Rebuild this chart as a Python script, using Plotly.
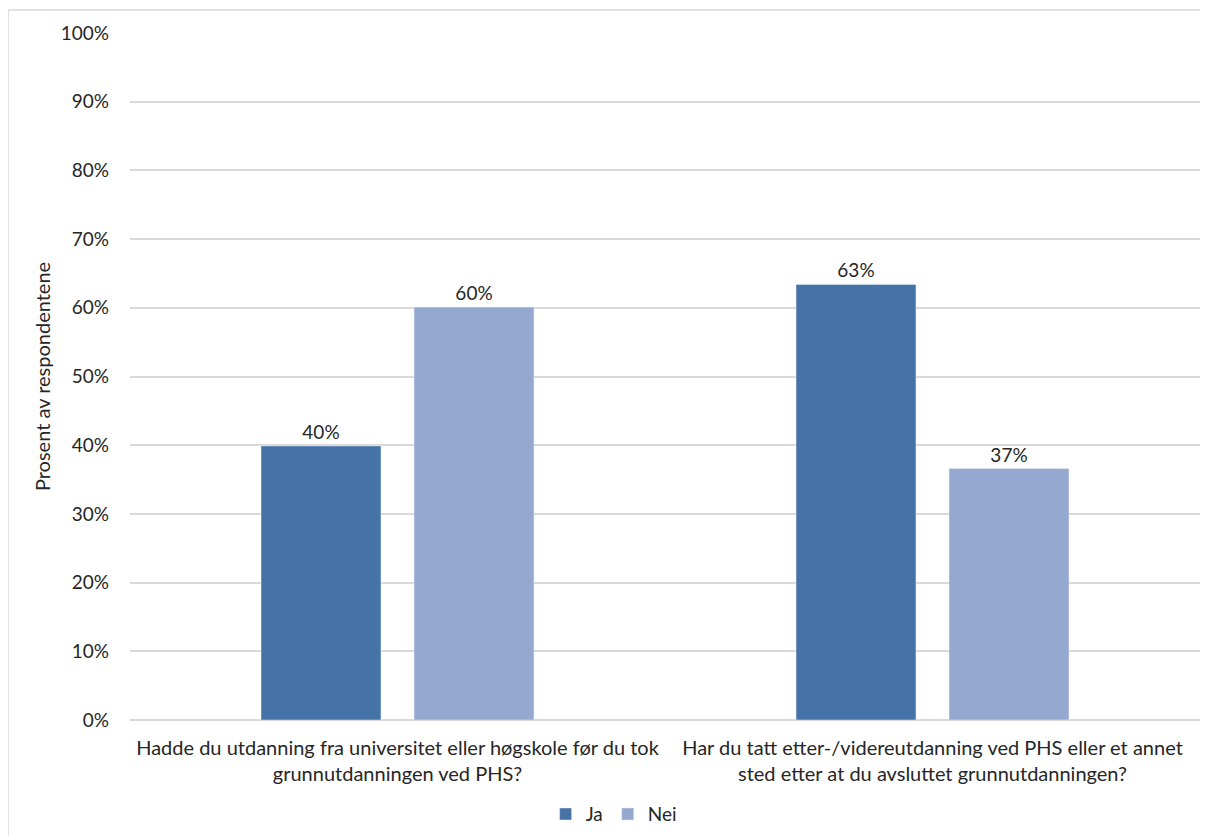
import plotly.graph_objects as go

categories = [
    "Hadde du utdanning fra universitet eller høgskole før du tok<br>grunnutdanningen ved PHS?",
    "Har du tatt etter-/videreutdanning ved PHS eller et annet<br>sted etter at du avsluttet grunnutdanningen?",
]
ja_values = [39.9, 63.4]
nei_values = [60.1, 36.6]
ja_labels = ["40%", "63%"]
nei_labels = ["60%", "37%"]
y_ticks = list(range(0, 101, 10))
y_tick_labels = [f"{v}%" for v in y_ticks]

FONT = "Lato, 'Open Sans', sans-serif"
TXT = "#262626"
FS = 19

fig = go.Figure()
fig.add_trace(go.Bar(
    name="Ja", x=categories, y=ja_values, text=ja_labels,
    textposition="outside", cliponaxis=False,
    marker=dict(color="#4573a7"),
    textfont=dict(size=FS, color=TXT, family=FONT),
))
fig.add_trace(go.Bar(
    name="Nei", x=categories, y=nei_values, text=nei_labels,
    textposition="outside", cliponaxis=False,
    marker=dict(color="#95a9d0"),
    textfont=dict(size=FS, color=TXT, family=FONT),
))

fig.update_layout(
    width=1200, height=828,
    margin=dict(l=122, r=8, t=25, b=116, autoexpand=False),
    paper_bgcolor="white", plot_bgcolor="white",
    barmode="group", bargap=0.428, bargroupgap=0.216,
    font=dict(family=FONT, size=FS, color=TXT),
    showlegend=True,
    legend=dict(orientation="h", x=0.452, xanchor="center", y=-0.137, yanchor="middle",
                font=dict(size=FS, color=TXT), itemwidth=30, traceorder="normal"),
    xaxis=dict(showgrid=False, showline=False, ticks="", automargin=False,
               ticklabelstandoff=14, tickfont=dict(size=20, color=TXT)),
    yaxis=dict(range=[0, 100], tickvals=y_ticks, ticktext=y_tick_labels, automargin=False,
               showgrid=True, gridcolor="#d9d9d9", gridwidth=1.5,
               zeroline=True, zerolinecolor="#d9d9d9", zerolinewidth=1.5,
               showline=False, ticks="", ticklabelstandoff=20,
               tickfont=dict(size=FS, color=TXT),
               title=dict(text="Prosent av respondentene", font=dict(size=20, color=TXT), standoff=4)),
    shapes=[dict(type="rect", xref="paper", yref="paper",
                 x0=-122/1070, x1=1.02, y0=-0.25, y1=1 + 23/687,
                 line=dict(color="#d9d9d9", width=1.5), fillcolor="rgba(0,0,0,0)", layer="below")],
)

fig.write_html("out.html")
